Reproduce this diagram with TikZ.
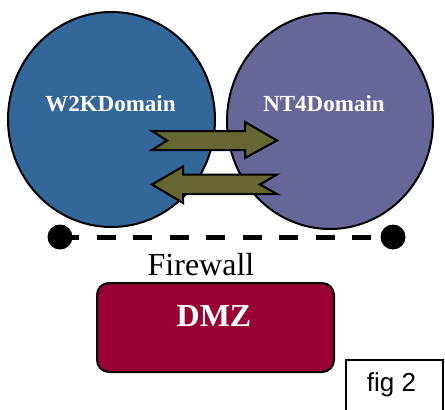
\documentclass[tikz,border=0pt]{standalone}
\usepackage{fontspec}
\setmainfont{Liberation Serif}
\newfontfamily\figfont{Liberation Sans}
\usepackage{tikz}
\definecolor{winblue}{HTML}{336699}
\definecolor{ntpurple}{HTML}{666699}
\definecolor{trustolive}{HTML}{666633}
\definecolor{dmzred}{HTML}{990033}
\tikzset{
  domainring/.style={draw=black, line width=2pt},
  trust/.style={draw=black, fill=trustolive, line width=2pt, line join=miter},
  dot/.style={circle, fill=black, inner sep=0pt, minimum size=25pt},
  wall/.style={draw=black, line width=5pt, dash pattern=on 19pt off 17.5pt},
  lab/.style={text=white, anchor=base, font=\fontsize{23}{26}\selectfont\bfseries},
  dmzbox/.style={draw=black, fill=dmzred, line width=2pt, rounded corners=12pt,
    minimum width=237pt, minimum height=89pt, inner sep=0pt},
}
\begin{document}
\begin{tikzpicture}[x=1pt,y=-1pt]
  \useasboundingbox (0,0) rectangle (445,410);
  \clip (0,0) rectangle (445,410);
  % the two domains
  \draw[domainring, fill=winblue] (111.5,119.5) ellipse [x radius=103.5, y radius=107.5];
  \draw[domainring, fill=ntpurple] (330,121) ellipse [x radius=103, y radius=108];
  \node[lab] (w2k) at (110.5,111) {W2KDomain};
  \node[lab] (nt4) at (324,111) {NT4Domain};
  % trust arrows
  \draw[trust] (152,131) -- (167,140.5) -- (152,150) -- (245,150) -- (245,158)
    -- (277,140.5) -- (245,122) -- (245,131) -- cycle;
  \draw[trust] (277,174.5) -- (260,184.5) -- (277,194) -- (183,194) -- (183,203)
    -- (152,184.5) -- (183,166.5) -- (183,174.5) -- cycle;
  % firewall
  \node[dot] (fwl) at (60,237) {};
  \node[dot] (fwr) at (393,237) {};
  \draw[wall] (fwl.center) -- (fwr.center);
  \node[anchor=base, font=\fontsize{32}{36}\selectfont] (fw) at (201,275) {Firewall};
  % dmz
  \node[dmzbox] (dmz) at (215.5,327.5) {};
  \node[lab, font=\fontsize{32}{36}\selectfont\bfseries] (dmzlab) at (214,326) {DMZ};
  % figure tag
  \draw[line width=2pt] (346,415) -- (346,360) -- (443,360) -- (443,415);
  \node[anchor=base, font=\figfont\fontsize{26}{30}\selectfont] (fig) at (391.5,391) {fig 2};
\end{tikzpicture}
\end{document}
